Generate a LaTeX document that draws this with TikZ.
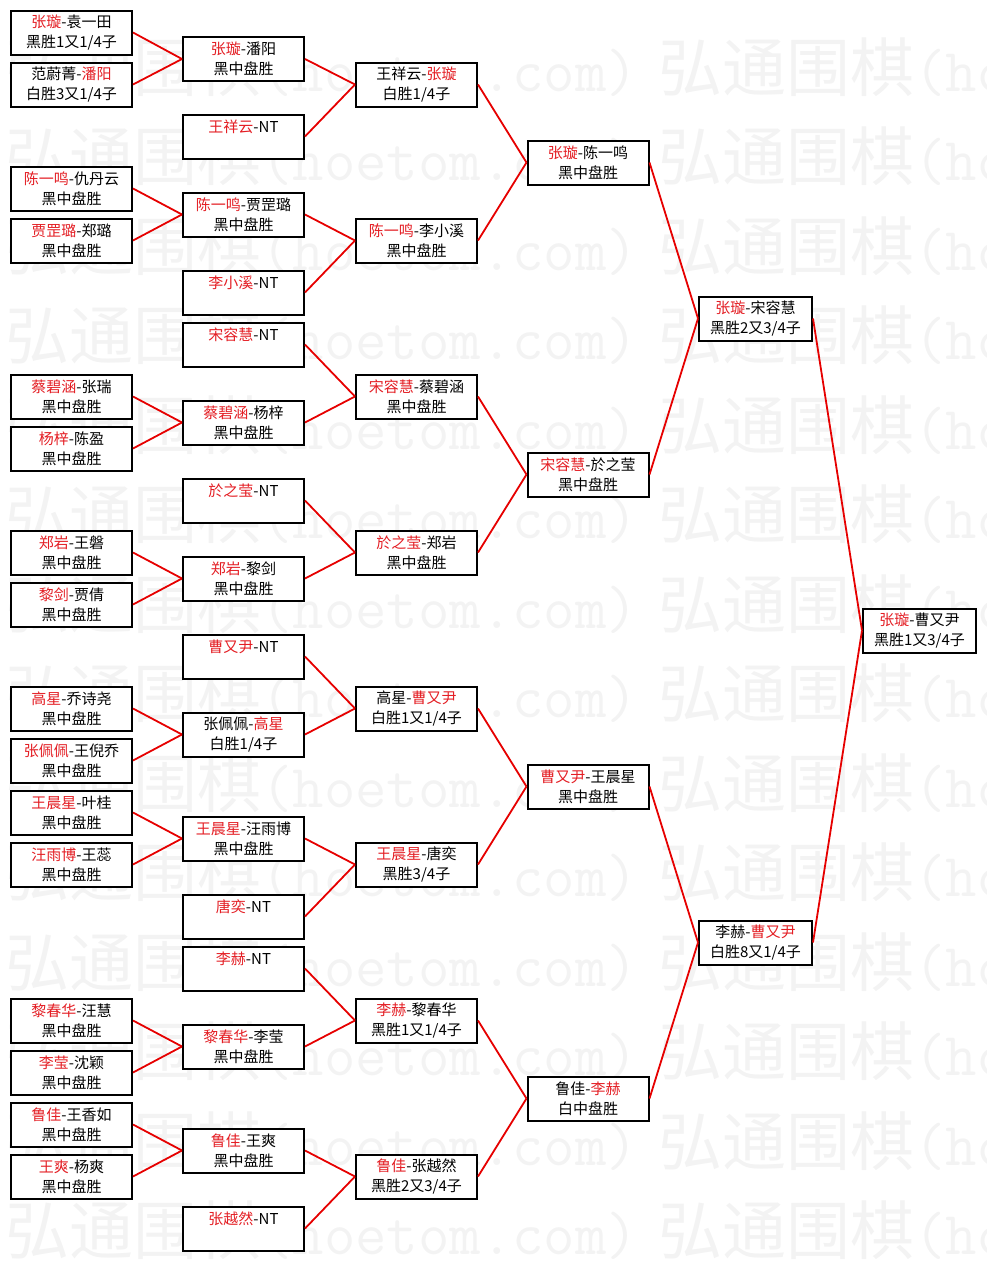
\documentclass[tikz,border=0pt]{standalone}
\usepackage{tikz, fontspec}

\newfontfamily\cjk{Noto Sans CJK SC}
\definecolor{wincol}{RGB}{228,30,36}
\definecolor{linecol}{RGB}{230,0,0}
\definecolor{wmcol}{RGB}{243,243,243}
\newcommand{\win}[1]{\textcolor{wincol}{#1}}
\newcommand{\wmpart}{弘通围棋{\ttfamily\fontsize{61}{61}\selectfont(hoetom.com)}}
\newcommand{\wmtext}{\wmpart\hspace{20pt}\wmpart}

\begin{document}
\begin{tikzpicture}[x=1pt, y=-1pt]


\tikzstyle{box_style} = [draw=black, fill=white, line width=2, minimum width=121, minimum height=44, inner sep=0, align=center, font=\cjk\fontsize{15}{20}\selectfont]
\tikzstyle{narrow_style} = [box_style, minimum width=113]
\tikzstyle{edge_style} = [draw=linecol, line width=1.8]
\tikzstyle{wm_style} = [anchor=west, inner sep=0, text=wmcol, font=\cjk\fontsize{64}{64}\selectfont]

\useasboundingbox (0,0) rectangle (987,1261);

% watermark rows
\node[wm_style] (wm0) at (5, 67) {\wmtext};
\node[wm_style] (wm1) at (5, 156.5) {\wmtext};
\node[wm_style] (wm2) at (5, 246) {\wmtext};
\node[wm_style] (wm3) at (5, 335.5) {\wmtext};
\node[wm_style] (wm4) at (5, 425) {\wmtext};
\node[wm_style] (wm5) at (5, 514.5) {\wmtext};
\node[wm_style] (wm6) at (5, 604) {\wmtext};
\node[wm_style] (wm7) at (5, 693.5) {\wmtext};
\node[wm_style] (wm8) at (5, 783) {\wmtext};
\node[wm_style] (wm9) at (5, 872.5) {\wmtext};
\node[wm_style] (wm10) at (5, 962) {\wmtext};
\node[wm_style] (wm11) at (5, 1051.5) {\wmtext};
\node[wm_style] (wm12) at (5, 1141) {\wmtext};
\node[wm_style] (wm13) at (5, 1230.5) {\wmtext};

% first round
\node[box_style] (a1) at (71.5, 32.5) {\win{张璇}-袁一田\\黑胜1又1/4子};
\node[box_style] (a2) at (71.5, 84.5) {范蔚菁-\win{潘阳}\\白胜3又1/4子};
\node[box_style] (a3) at (71.5, 188.5) {\win{陈一鸣}-仇丹云\\黑中盘胜};
\node[box_style] (a4) at (71.5, 240.5) {\win{贾罡璐}-郑璐\\黑中盘胜};
\node[box_style] (a5) at (71.5, 396.5) {\win{蔡碧涵}-张瑞\\黑中盘胜};
\node[box_style] (a6) at (71.5, 448.5) {\win{杨梓}-陈盈\\黑中盘胜};
\node[box_style] (a7) at (71.5, 552.5) {\win{郑岩}-王磐\\黑中盘胜};
\node[box_style] (a8) at (71.5, 604.5) {\win{黎剑}-贾倩\\黑中盘胜};
\node[box_style] (a9) at (71.5, 708.5) {\win{高星}-乔诗尧\\黑中盘胜};
\node[box_style] (a10) at (71.5, 760.5) {\win{张佩佩}-王倪乔\\黑中盘胜};
\node[box_style] (a11) at (71.5, 812.5) {\win{王晨星}-叶桂\\黑中盘胜};
\node[box_style] (a12) at (71.5, 864.5) {\win{汪雨博}-王蕊\\黑中盘胜};
\node[box_style] (a13) at (71.5, 1020.5) {\win{黎春华}-汪慧\\黑中盘胜};
\node[box_style] (a14) at (71.5, 1072.5) {\win{李莹}-沈颖\\黑中盘胜};
\node[box_style] (a15) at (71.5, 1124.5) {\win{鲁佳}-王香如\\黑中盘胜};
\node[box_style] (a16) at (71.5, 1176.5) {\win{王爽}-杨爽\\黑中盘胜};

% second round
\node[box_style] (b1) at (243.5, 59) {\win{张璇}-潘阳\\黑中盘胜};
\node[box_style] (b2) at (243.5, 136.5) {\win{王祥云}-NT\\ \mbox{}};
\node[box_style] (b3) at (243.5, 214.5) {\win{陈一鸣}-贾罡璐\\黑中盘胜};
\node[box_style] (b4) at (243.5, 292.5) {\win{李小溪}-NT\\ \mbox{}};
\node[box_style] (b5) at (243.5, 344.5) {\win{宋容慧}-NT\\ \mbox{}};
\node[box_style] (b6) at (243.5, 422.5) {\win{蔡碧涵}-杨梓\\黑中盘胜};
\node[box_style] (b7) at (243.5, 500.5) {\win{於之莹}-NT\\ \mbox{}};
\node[box_style] (b8) at (243.5, 578.5) {\win{郑岩}-黎剑\\黑中盘胜};
\node[box_style] (b9) at (243.5, 656.5) {\win{曹又尹}-NT\\ \mbox{}};
\node[box_style] (b10) at (243.5, 734.5) {张佩佩-\win{高星}\\白胜1/4子};
\node[box_style] (b11) at (243.5, 838.5) {\win{王晨星}-汪雨博\\黑中盘胜};
\node[box_style] (b12) at (243.5, 916.5) {\win{唐奕}-NT\\ \mbox{}};
\node[box_style] (b13) at (243.5, 968.5) {\win{李赫}-NT\\ \mbox{}};
\node[box_style] (b14) at (243.5, 1046.5) {\win{黎春华}-李莹\\黑中盘胜};
\node[box_style] (b15) at (243.5, 1150.5) {\win{鲁佳}-王爽\\黑中盘胜};
\node[box_style] (b16) at (243.5, 1228.5) {\win{张越然}-NT\\ \mbox{}};

% third round
\node[box_style] (c1) at (416.5, 84.5) {王祥云-\win{张璇}\\白胜1/4子};
\node[box_style] (c2) at (416.5, 240.5) {\win{陈一鸣}-李小溪\\黑中盘胜};
\node[box_style] (c3) at (416.5, 396.5) {\win{宋容慧}-蔡碧涵\\黑中盘胜};
\node[box_style] (c4) at (416.5, 552.5) {\win{於之莹}-郑岩\\黑中盘胜};
\node[box_style] (c5) at (416.5, 708.5) {高星-\win{曹又尹}\\白胜1又1/4子};
\node[box_style] (c6) at (416.5, 864.5) {\win{王晨星}-唐奕\\黑胜3/4子};
\node[box_style] (c7) at (416.5, 1020.5) {\win{李赫}-黎春华\\黑胜1又1/4子};
\node[box_style] (c8) at (416.5, 1176.5) {\win{鲁佳}-张越然\\黑胜2又3/4子};

% quarter finals
\node[box_style] (d1) at (588, 162.5) {\win{张璇}-陈一鸣\\黑中盘胜};
\node[box_style] (d2) at (588, 474.5) {\win{宋容慧}-於之莹\\黑中盘胜};
\node[box_style] (d3) at (588, 786.5) {\win{曹又尹}-王晨星\\黑中盘胜};
\node[box_style] (d4) at (588, 1098.5) {鲁佳-\win{李赫}\\白中盘胜};

% semi finals
\node[narrow_style] (e1) at (755.5, 318.5) {\win{张璇}-宋容慧\\黑胜2又3/4子};
\node[narrow_style] (e2) at (755.5, 942.5) {李赫-\win{曹又尹}\\白胜8又1/4子};

% final
\node[narrow_style] (f1) at (919.5, 630.5) {\win{张璇}-曹又尹\\黑胜1又3/4子};

\draw[edge_style]  (a1.east) edge (b1.west);
\draw[edge_style]  (a2.east) edge (b1.west);
\draw[edge_style]  (a3.east) edge (b3.west);
\draw[edge_style]  (a4.east) edge (b3.west);
\draw[edge_style]  (a5.east) edge (b6.west);
\draw[edge_style]  (a6.east) edge (b6.west);
\draw[edge_style]  (a7.east) edge (b8.west);
\draw[edge_style]  (a8.east) edge (b8.west);
\draw[edge_style]  (a9.east) edge (b10.west);
\draw[edge_style]  (a10.east) edge (b10.west);
\draw[edge_style]  (a11.east) edge (b11.west);
\draw[edge_style]  (a12.east) edge (b11.west);
\draw[edge_style]  (a13.east) edge (b14.west);
\draw[edge_style]  (a14.east) edge (b14.west);
\draw[edge_style]  (a15.east) edge (b15.west);
\draw[edge_style]  (a16.east) edge (b15.west);

\draw[edge_style]  (b1.east) edge (c1.west);
\draw[edge_style]  (b2.east) edge (c1.west);
\draw[edge_style]  (b3.east) edge (c2.west);
\draw[edge_style]  (b4.east) edge (c2.west);
\draw[edge_style]  (b5.east) edge (c3.west);
\draw[edge_style]  (b6.east) edge (c3.west);
\draw[edge_style]  (b7.east) edge (c4.west);
\draw[edge_style]  (b8.east) edge (c4.west);
\draw[edge_style]  (b9.east) edge (c5.west);
\draw[edge_style]  (b10.east) edge (c5.west);
\draw[edge_style]  (b11.east) edge (c6.west);
\draw[edge_style]  (b12.east) edge (c6.west);
\draw[edge_style]  (b13.east) edge (c7.west);
\draw[edge_style]  (b14.east) edge (c7.west);
\draw[edge_style]  (b15.east) edge (c8.west);
\draw[edge_style]  (b16.east) edge (c8.west);

\draw[edge_style]  (c1.east) edge (d1.west);
\draw[edge_style]  (c2.east) edge (d1.west);
\draw[edge_style]  (c3.east) edge (d2.west);
\draw[edge_style]  (c4.east) edge (d2.west);
\draw[edge_style]  (c5.east) edge (d3.west);
\draw[edge_style]  (c6.east) edge (d3.west);
\draw[edge_style]  (c7.east) edge (d4.west);
\draw[edge_style]  (c8.east) edge (d4.west);

\draw[edge_style]  (d1.east) edge (e1.west);
\draw[edge_style]  (d2.east) edge (e1.west);
\draw[edge_style]  (d3.east) edge (e2.west);
\draw[edge_style]  (d4.east) edge (e2.west);

\draw[edge_style]  (e1.east) edge (f1.west);
\draw[edge_style]  (e2.east) edge (f1.west);

\end{tikzpicture}
\end{document}
